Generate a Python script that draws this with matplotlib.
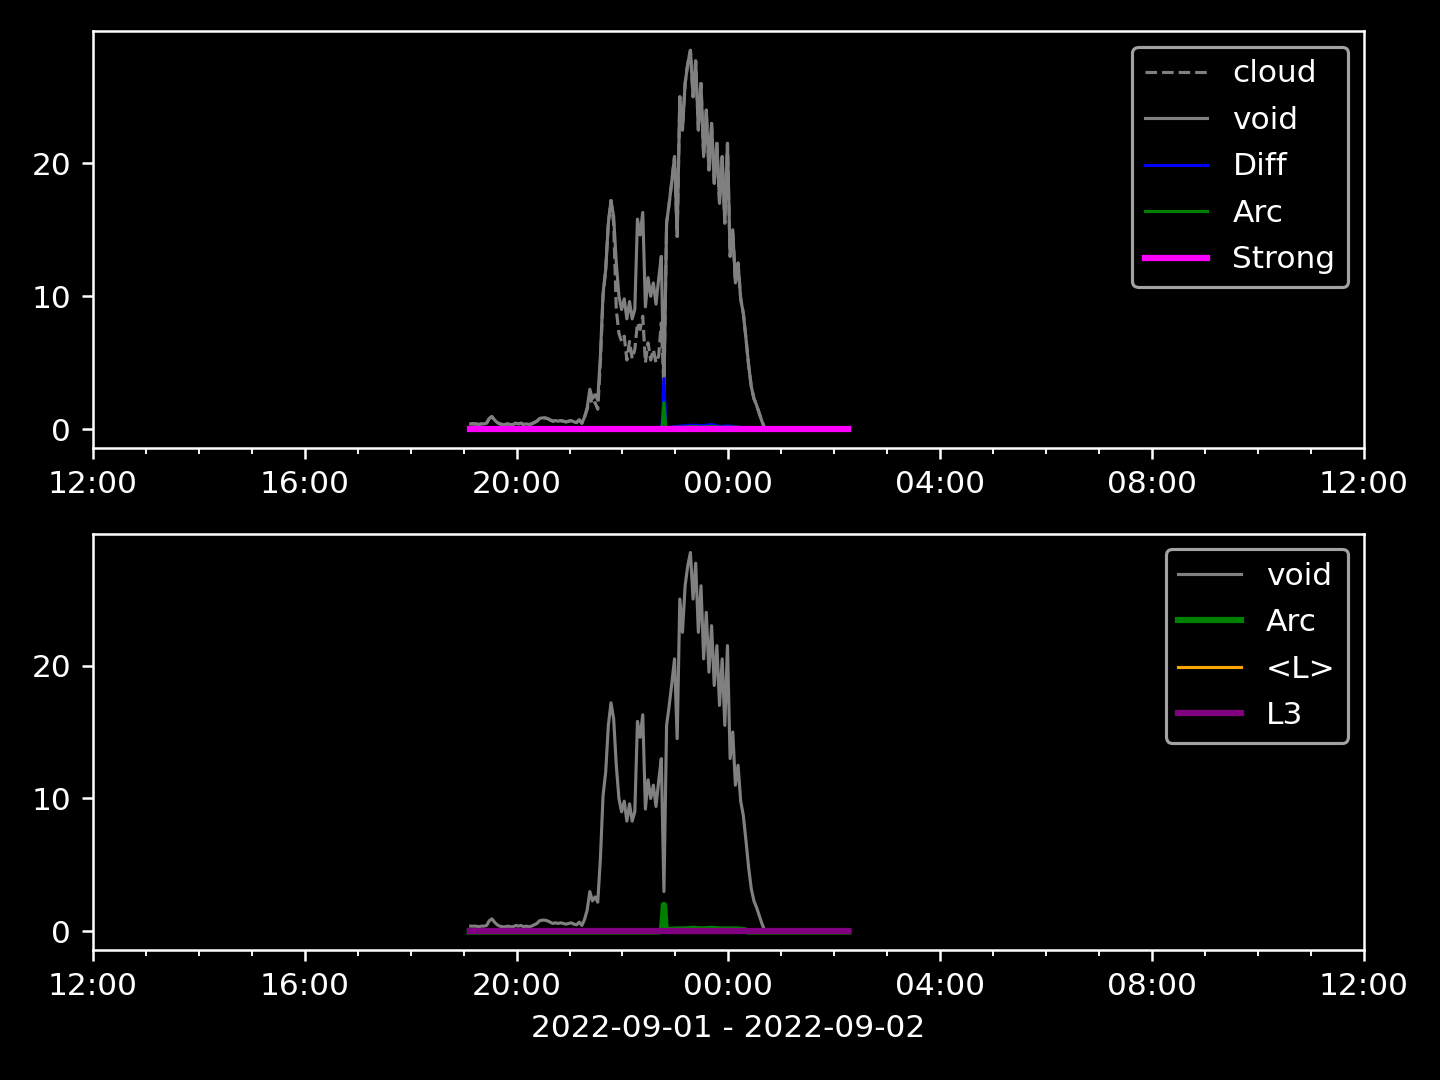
import pandas as pd
import matplotlib
matplotlib.use("Agg")
import matplotlib.pyplot as plt
import matplotlib.dates as mdates

plt.style.use("dark_background")

# void / cloud sampled every 3 minutes starting 19:08
void = [0.4, 0.4, 0.4, 0.35, 0.4, 0.4, 0.45, 0.8, 0.95, 0.7,
        0.5, 0.4, 0.35, 0.35, 0.4, 0.35, 0.35, 0.45, 0.4, 0.45,
        0.35, 0.4, 0.35, 0.4, 0.5, 0.6, 0.8, 0.85, 0.85, 0.8,
        0.7, 0.6, 0.65, 0.6, 0.65, 0.6, 0.55, 0.6, 0.65, 0.55,
        0.5, 0.7, 0.45, 0.9, 1.6, 3.0, 2.3, 2.6, 2.2, 5.5,
        10.2, 12.0, 15.5, 17.2, 16.0, 12.5, 10.0, 9.0, 9.8, 8.3,
        9.6, 8.3, 9.0, 15.8, 14.6, 16.3, 9.2, 11.4, 10.0, 11.0,
        9.4, 11.3, 13.0, 3.0, 15.5, 17.0, 18.7, 20.5, 14.5, 25.0,
        22.5, 26.0, 27.5, 28.5, 25.0, 27.7, 22.5, 26.0, 20.5, 24.0,
        19.5, 23.0, 18.5, 21.5, 17.0, 20.5, 15.5, 21.5, 13.0, 15.0,
        11.0, 12.5, 9.8, 8.7, 6.8, 4.8, 3.2, 2.3, 1.8, 1.2,
        0.6, 0.1]
cloud = [0.4, 0.4, 0.4, 0.35, 0.4, 0.4, 0.45, 0.8, 0.95, 0.7,
         0.5, 0.4, 0.35, 0.35, 0.4, 0.35, 0.35, 0.45, 0.4, 0.45,
         0.35, 0.4, 0.35, 0.4, 0.5, 0.6, 0.8, 0.85, 0.85, 0.8,
         0.7, 0.6, 0.65, 0.6, 0.65, 0.6, 0.55, 0.6, 0.65, 0.55,
         0.5, 0.7, 0.45, 0.9, 1.5, 2.5, 1.8, 2.0, 1.5, 5.0,
         10.0, 12.0, 15.5, 17.2, 15.5, 9.0, 7.2, 6.6, 7.0, 5.2,
         6.6, 5.3, 6.0, 8.0, 7.5, 8.5, 5.0, 6.5, 5.2, 6.0,
         5.0, 5.5, 8.0, 3.0, 15.5, 17.0, 18.7, 20.5, 14.5, 25.0,
         22.5, 26.0, 27.5, 28.5, 25.0, 27.7, 22.5, 26.0, 20.5, 24.0,
         19.5, 23.0, 18.5, 21.5, 17.0, 20.5, 15.5, 21.5, 13.0, 15.0,
         11.0, 12.5, 9.8, 8.7, 6.8, 4.8, 3.2, 2.3, 1.8, 1.2,
         0.6, 0.1]

# sparse series: minutes after 19:00
sparse_min = [7, 222, 225, 227, 229, 231, 240, 250, 260, 270,
              280, 290, 300, 310, 318, 322, 436]
diff = [0, 0, 0.3, 3.8, 0.3, 0.1, 0.2, 0.25, 0.3, 0.25,
        0.35, 0.2, 0.25, 0.15, 0.1, 0, 0]
arc = [0, 0, 0.2, 2.0, 0.2, 0.1, 0.15, 0.15, 0.2, 0.15,
       0.2, 0.15, 0.15, 0.15, 0.1, 0, 0]
flat_min = [7, 436]
strong = [0, 0]
mean_l = [0, 0]
l3 = [0, 0]

base = pd.Timestamp("2022-09-01 19:00")
t_void = pd.date_range("2022-09-01 19:08", periods=len(void), freq="3min")
t_sparse = base + pd.to_timedelta(sparse_min, unit="min")
t_flat = base + pd.to_timedelta(flat_min, unit="min")

fig, (ax1, ax2) = plt.subplots(2, 1, figsize=(6.4, 4.8), dpi=225)

ax1.plot(t_void, cloud, color="gray", ls="--", lw=1, label="cloud")
ax1.plot(t_void, void, color="gray", lw=1, label="void")
ax1.plot(t_sparse, diff, color="blue", lw=1, label="Diff")
ax1.plot(t_sparse, arc, color="green", lw=1, label="Arc")
ax1.plot(t_flat, strong, color="magenta", lw=2, label="Strong")
ax1.legend(loc="upper right", labelspacing=0.56)

ax2.plot(t_void, void, color="gray", lw=1, label="void")
ax2.plot(t_sparse, arc, color="green", lw=2, label="Arc")
ax2.plot(t_flat, mean_l, color="orange", lw=1, label="<L>")
ax2.plot(t_flat, l3, color="purple", lw=2, label="L3")
ax2.legend(loc="upper right", labelspacing=0.56)

for ax in (ax1, ax2):
    ax.set_xlim(pd.Timestamp("2022-09-01 12:00"), pd.Timestamp("2022-09-02 12:00"))
    ax.xaxis.set_major_locator(mdates.HourLocator(byhour=range(0, 24, 4)))
    ax.xaxis.set_minor_locator(mdates.HourLocator())
    ax.xaxis.set_major_formatter(mdates.DateFormatter("%H:%M"))

ax2.set_xlabel("2022-09-01 - 2022-09-02")

fig.subplots_adjust(left=0.0646, right=0.947, top=0.971, bottom=0.12, hspace=0.205)
fig.savefig("out.png")
